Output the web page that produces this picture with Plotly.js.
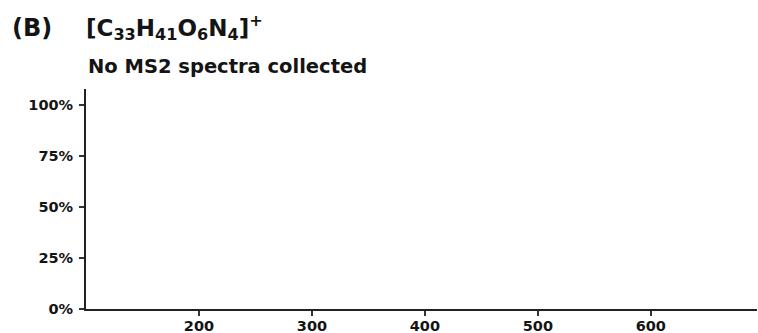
<!DOCTYPE html>
<html>
<head>
<meta charset="utf-8">
<script src="https://cdn.plot.ly/plotly-3.0.1.min.js"></script>
<style>html,body{margin:0;padding:0;background:#fff;}#chart{width:758px;height:333px;}</style>
</head>
<body>
<div id="chart"></div>
<script>
// MS2 spectrum data: none collected
var mz = [];
var intensity = [];
var xTickVals = [200, 300, 400, 500, 600];
var xTickText = ["200", "300", "400", "500", "600"];
var yTickVals = [0, 0.25, 0.5, 0.75, 1];
var yTickText = ["0%", "25%", "50%", "75%", "100%"];
var panelLabel = "(B)";
var formulaLabel = "[C<sub>33</sub>H<sub>41</sub>O<sub>6</sub>N<sub>4</sub>]<sup>+</sup>";
var subtitle = "No MS2 spectra collected";

var fontFam = "DejaVu Sans, Liberation Sans, Arial, sans-serif";
var ink = "#141414";

var traces = [{
  type: "bar",
  x: mz,
  y: intensity,
  marker: {color: ink},
  showlegend: false,
  hoverinfo: "skip"
}];

var axisCommon = {
  showgrid: false,
  zeroline: false,
  showline: true,
  linecolor: "#222",
  linewidth: 2,
  ticks: "outside",
  ticklen: 5,
  tickwidth: 1.5,
  tickcolor: "#333",
  tickfont: {family: fontFam, size: 14.5, color: ink, weight: "bold"},
  tickmode: "array",
  fixedrange: true
};

var W = 671, H = 220, L = 86, T = 89;
function px(x) { return (x - L) / W; }
function py(y) { return (T + H - y) / H; }

var layout = {
  width: 758,
  height: 333,
  margin: {l: L, r: 1, t: T, b: 24},
  paper_bgcolor: "#fff",
  plot_bgcolor: "#fff",
  xaxis: Object.assign({}, axisCommon, {
    range: [100, 694],
    tickvals: xTickVals,
    ticktext: xTickText,
    ticklabelstandoff: -2
  }),
  yaxis: Object.assign({}, axisCommon, {
    range: [0, 1.078],
    tickvals: yTickVals,
    ticktext: yTickText,
    ticklabelstandoff: 3
  }),
  annotations: [
    {text: "<b>" + panelLabel + "</b>", xref: "paper", yref: "paper",
     x: px(10), y: py(28), xanchor: "left", yanchor: "middle",
     showarrow: false, font: {family: fontFam, size: 24, color: ink}},
    {text: "<b>" + formulaLabel + "</b>", xref: "paper", yref: "paper",
     x: px(84), y: py(27), xanchor: "left", yanchor: "middle",
     showarrow: false, font: {family: fontFam, size: 23, color: ink}},
    {text: "<b>" + subtitle + "</b>", xref: "paper", yref: "paper",
     x: px(86), y: py(66), xanchor: "left", yanchor: "middle",
     showarrow: false, font: {family: fontFam, size: 19.5, color: ink}}
  ]
};

Plotly.newPlot("chart", traces, layout, {displayModeBar: false, staticPlot: true});
</script>
</body>
</html>
